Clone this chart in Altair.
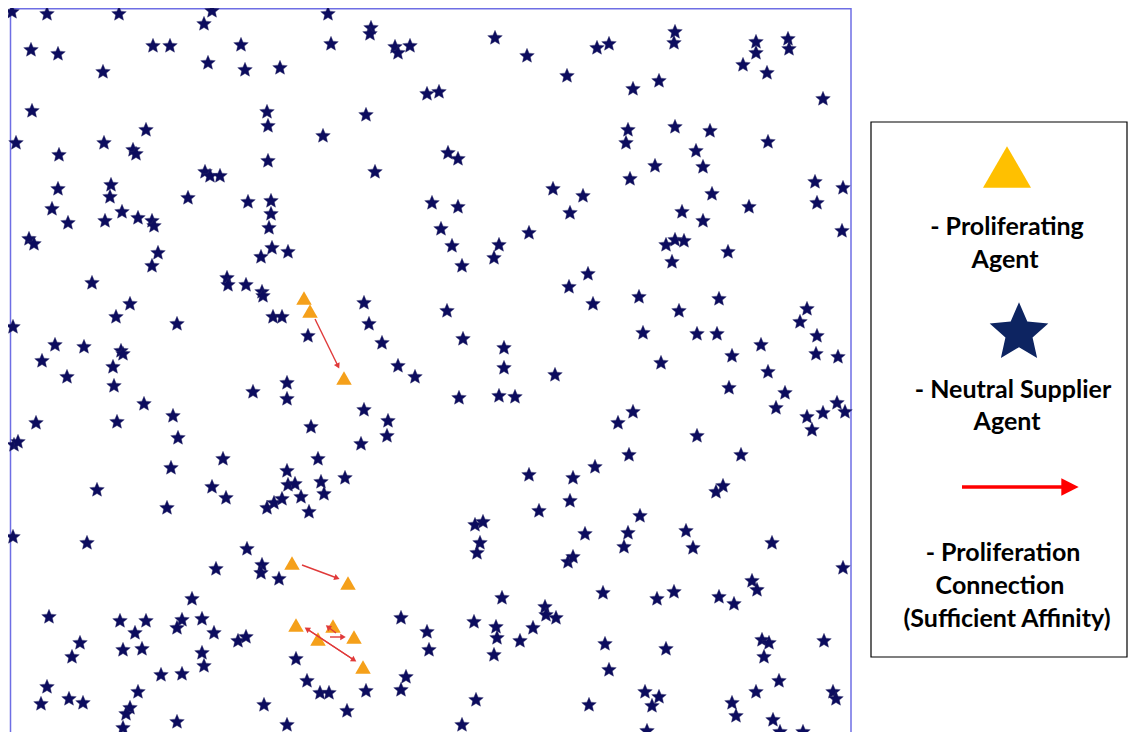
import math
import altair as alt
import pandas as pd

# Neutral supplier agents (stars), world coordinates (x right, y down)
stars_top = [
    (12, 12), (47, 14), (119, 14), (212, 11), (204, 24), (31, 50), (58, 54), (153, 46), (170, 46), (241, 45),
    (208, 63), (245, 70), (280, 68), (103, 72), (32, 111), (16, 143), (104, 143), (133, 150), (136, 154), (146, 130),
    (59, 155), (267, 112), (268, 126), (268, 161), (205, 172), (210, 176), (220, 176), (58, 189), (111, 185),
    (328, 14), (371, 28), (370, 34), (331, 44), (395, 47), (398, 53), (410, 46), (495, 38), (527, 56), (567, 76),
    (427, 94), (439, 92), (366, 115), (323, 136), (448, 153), (458, 159), (375, 172), (553, 189),
    (675, 32), (674, 43), (597, 48), (609, 44), (756, 42), (756, 53), (788, 39), (789, 49), (743, 65), (767, 73),
    (659, 81), (633, 89), (823, 99), (628, 130), (626, 143), (675, 127), (710, 131), (768, 142), (696, 151),
    (655, 166), (703, 167), (630, 179), (815, 182), (843, 188),
]
stars_upper_mid = [
    (110, 197), (52, 209), (68, 223), (105, 221), (122, 212), (138, 218), (152, 221), (154, 226), (188, 198),
    (248, 202), (271, 201), (271, 214), (269, 228), (272, 248), (261, 257), (288, 252), (29, 239), (34, 244),
    (158, 253), (152, 266), (92, 283), (227, 278), (228, 285), (246, 285), (262, 292), (263, 296), (130, 304),
    (116, 317), (177, 324), (273, 317), (282, 317), (13, 327), (55, 345), (84, 347), (121, 351), (123, 354),
    (42, 361), (113, 367),
    (432, 203), (458, 207), (570, 213), (441, 229), (529, 233), (452, 246), (499, 245), (494, 258), (462, 266),
    (569, 287), (364, 303), (369, 324), (447, 311), (308, 336), (382, 343), (463, 339), (504, 348), (398, 366),
    (504, 368),
    (583, 196), (712, 194), (749, 207), (817, 203), (682, 212), (703, 221), (842, 231), (666, 245), (675, 240),
    (684, 241), (728, 252), (672, 262), (588, 274), (593, 304), (639, 297), (719, 299), (679, 311), (807, 309),
    (800, 322), (643, 333), (697, 334), (717, 334), (817, 336), (761, 345), (732, 356), (816, 354), (838, 357),
    (661, 363), (768, 372),
]
stars_lower_mid = [
    (67, 377), (114, 386), (144, 404), (36, 423), (117, 422), (173, 416), (178, 438), (14, 445), (18, 442),
    (253, 392), (287, 383), (287, 399), (223, 459), (171, 468), (287, 471), (288, 485), (97, 490), (212, 487),
    (226, 498), (267, 508), (274, 503), (282, 499), (167, 508), (13, 537), (87, 543), (247, 549),
    (415, 377), (555, 375), (459, 398), (499, 396), (515, 397), (364, 410), (388, 421), (311, 427), (387, 436),
    (361, 444), (318, 459), (295, 484), (321, 482), (345, 478), (301, 497), (324, 494), (309, 512), (529, 475),
    (539, 511), (570, 501), (573, 478), (475, 525), (483, 522), (480, 543),
    (729, 388), (785, 393), (776, 408), (633, 412), (618, 423), (807, 417), (823, 413), (837, 403), (845, 412),
    (812, 430), (697, 436), (629, 455), (741, 455), (595, 467), (716, 492), (723, 486), (640, 516), (585, 534),
    (628, 533), (686, 531), (624, 547), (693, 548), (772, 543),
]
stars_bottom = [
    (216, 569), (262, 565), (261, 573), (279, 579), (192, 599), (49, 617), (120, 621), (146, 621), (182, 620),
    (177, 628), (202, 619), (135, 633), (214, 633), (238, 641), (246, 637), (80, 643), (72, 657), (123, 650),
    (142, 649), (202, 653), (204, 666), (161, 675), (182, 674), (47, 687), (138, 692), (41, 704), (69, 699),
    (83, 703), (130, 708), (126, 714), (264, 705), (123, 728), (177, 722), (287, 725),
    (477, 553), (568, 562), (573, 557), (502, 598), (401, 618), (427, 632), (429, 650), (474, 622), (496, 627),
    (497, 638), (494, 655), (520, 641), (533, 628), (545, 607), (546, 615), (556, 618), (296, 659), (307, 681),
    (320, 693), (329, 693), (366, 691), (406, 677), (401, 690), (347, 711), (476, 700), (462, 725),
    (843, 568), (603, 593), (657, 599), (674, 592), (719, 597), (734, 604), (752, 581), (757, 590), (605, 644),
    (666, 649), (762, 640), (769, 643), (764, 657), (824, 641), (609, 670), (779, 681), (756, 692), (645, 692),
    (659, 697), (652, 706), (833, 692), (836, 699), (589, 705), (732, 703), (736, 716), (773, 720), (780, 732),
    (803, 732), (647, 731),
]

# Proliferating agents (triangles)
prolif_x = [304, 310, 344, 292, 348, 296, 333, 318, 354, 363]
prolif_y = [298, 311, 378, 563, 583, 625, 626, 639, 637, 667]

# Proliferation connections (arrows): start -> end
link_x1 = [315, 302, 354, 307, 330, 336]
link_y1 = [319, 565, 660, 629, 637, 633]
link_x2 = [338, 337, 307, 354, 343, 328]
link_y2 = [366, 578, 629, 660, 637, 627]

legend_lines = [
    ("- Proliferating", 999, 219),
    ("Agent", 997, 252),
    ("- Neutral Supplier", 1005, 382),
    ("Agent", 999, 414),
    ("- Proliferation", 995, 545),
    ("Connection", 992, 578),
    ("(Sufficient Affinity)", 999, 611),
]

STAR = ("M0,-1L0.27,-0.37L0.951,-0.309L0.44,0.143L0.588,0.809L0,0.46"
        "L-0.588,0.809L-0.44,0.143L-0.951,-0.309L-0.27,-0.37Z")
HEAD = "M-1,-1L1,0L-1,1Z"

all_stars = stars_top + stars_upper_mid + stars_lower_mid + stars_bottom
stars_df = pd.DataFrame(all_stars, columns=["x", "y"])
prolif_df = pd.DataFrame({"x": prolif_x, "y": prolif_y})
links_df = pd.DataFrame({"x": link_x1, "y": link_y1, "x2": link_x2, "y2": link_y2})
links_df["angle"] = [
    (math.degrees(math.atan2(b - a, -(d - c))) + 360) % 360
    for a, b, c, d in zip(link_x1, link_x2, link_y1, link_y2)
]

W, H = 1120, 724
xs = alt.Scale(domain=[8, 1128], nice=False, zero=False)
ys = alt.Scale(domain=[8, 732], nice=False, zero=False, reverse=True)
X = alt.X("x:Q", scale=xs, axis=None)
Y = alt.Y("y:Q", scale=ys, axis=None)

one = pd.DataFrame({"k": [0]})
FRAME = "#6e6ee4"

frame_left = alt.Chart(one).mark_rule(color=FRAME, strokeWidth=1.5).encode(
    x=alt.value(2.5), y=alt.value(0), y2=alt.value(H))
frame_top = alt.Chart(one).mark_rule(color=FRAME, strokeWidth=1.5).encode(
    x=alt.value(2.5), x2=alt.value(843), y=alt.value(0.75))
frame_right = alt.Chart(one).mark_rule(color=FRAME, strokeWidth=1.5).encode(
    x=alt.value(843), y=alt.value(0), y2=alt.value(H))

stars = alt.Chart(stars_df).mark_point(
    shape=STAR, filled=True, size=235, color="#0c0c5e", opacity=1,
    stroke="#2a2a66", strokeWidth=0.4).encode(x=X, y=Y)

triangles = alt.Chart(prolif_df).mark_point(
    shape="triangle-up", filled=True, size=240, color="#F5A01A", opacity=1).encode(x=X, y=Y)

link_lines = alt.Chart(links_df).mark_rule(color="#E03A3A", strokeWidth=1.4).encode(
    x=X, y=Y, x2="x2:Q", y2="y2:Q")
link_heads = alt.Chart(links_df).mark_point(
    shape="triangle-up", filled=True, size=40, color="#E03A3A", opacity=1).encode(
    x=alt.X("x2:Q", scale=xs, axis=None), y=alt.Y("y2:Q", scale=ys, axis=None),
    angle=alt.Angle("angle:Q", scale=None))

legend_box = alt.Chart(one).mark_rect(fill="white", stroke="black", strokeWidth=1.2).encode(
    x=alt.value(863), x2=alt.value(1119), y=alt.value(114), y2=alt.value(649))
legend_tri = alt.Chart(one).mark_point(
    shape="triangle-up", filled=True, size=2304, color="#FFC000", opacity=1).encode(
    x=alt.value(999), y=alt.value(159))
legend_star = alt.Chart(one).mark_point(
    shape=STAR, filled=True, size=3800, color="#0d2461", opacity=1).encode(
    x=alt.value(1011), y=alt.value(325))
legend_arrow = alt.Chart(one).mark_rule(color="#FF0000", strokeWidth=3.5).encode(
    x=alt.value(954), x2=alt.value(1058), y=alt.value(479))
legend_head = alt.Chart(one).mark_point(
    shape=HEAD, filled=True, size=300, color="#FF0000", opacity=1).encode(
    x=alt.value(1062), y=alt.value(479))

texts = []
for t, tx, ty in legend_lines:
    texts.append(
        alt.Chart(pd.DataFrame({"t": [t]})).mark_text(
            font="Lato", fontWeight="bold", fontSize=25, color="black",
            align="center", baseline="middle").encode(
            x=alt.value(tx), y=alt.value(ty), text="t:N"))

chart = alt.layer(
    frame_left, frame_top, frame_right, stars, triangles, link_lines, link_heads,
    legend_box, legend_tri, legend_star, legend_arrow, legend_head, *texts
).properties(
    width=W, height=H, padding=0, autosize=alt.AutoSizeParams(type="none"),
    background="white"
).configure_view(stroke=None)

chart.save("out.html", embed_options={"renderer": "svg", "actions": False})
